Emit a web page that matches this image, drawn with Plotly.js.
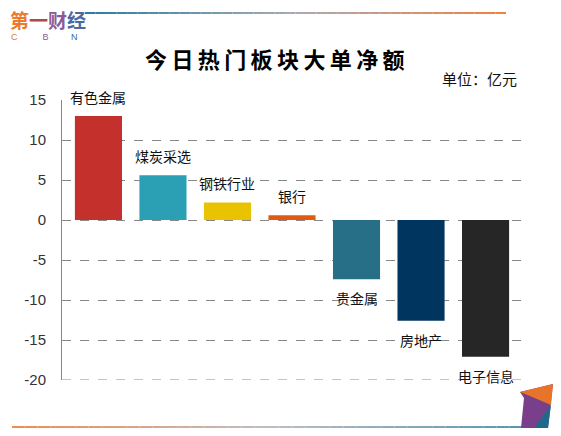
<!DOCTYPE html>
<html>
<head>
<meta charset="utf-8">
<script src="https://cdn.plot.ly/plotly-3.0.1.min.js"></script>
<style>html,body{margin:0;padding:0;background:#fff;}#chart{width:561px;height:436px;}</style>
</head>
<body>
<div id="chart"></div>
<script>
const categories = ["有色金属", "煤炭采选", "钢铁行业", "银行", "贵金属", "房地产", "电子信息"];
const values = [13.0, 5.6, 2.2, 0.6, -7.4, -12.6, -17.1];
const barColors = ["#c4302b", "#2ba0b4", "#e9c300", "#e05a10", "#266f87", "#003560", "#262626"];
const yTicks = [15, 10, 5, 0, -5, -10, -15, -20];

const cjk = '"Noto Sans CJK SC", "Noto Sans", sans-serif';

const trace = {
  type: "bar",
  x: categories.map((c, i) => i),
  y: values,
  marker: { color: barColors },
  width: 0.73,
  hoverinfo: "none"
};

const annotations = categories.map((c, i) => ({
  x: i, y: values[i], xref: "x", yref: "y",
  text: c, showarrow: false,
  yshift: values[i] >= 0 ? 19 : -19,
  font: { family: cjk, size: 14, color: "#111" }
}));

annotations.push({
  xref: "paper", yref: "paper", x: 0.462, y: 1, yanchor: "bottom", xanchor: "center",
  yshift: 24,
  text: "今\u2009日\u2009热\u2009门\u2009板\u2009块\u2009大\u2009单\u2009净\u2009额",
  showarrow: false, font: { family: cjk, size: 22, color: "#000", weight: "bold" }
});
annotations.push({
  xref: "paper", yref: "paper", x: 1, y: 1, yanchor: "bottom", xanchor: "right",
  yshift: 9, xshift: -3,
  text: "单位：亿元", showarrow: false, font: { family: cjk, size: 15, color: "#111" }
});
// logo
annotations.push({
  xref: "paper", yref: "paper", x: -0.117, y: 1, xanchor: "left", yanchor: "middle",
  yshift: 81,
  text: '<span style="color:#ec7a2c">第</span><span style="color:#b04a4a">一</span><span style="color:#8a5a9a">财</span><span style="color:#4a6aa0">经</span>',
  showarrow: false, font: { family: cjk, size: 19, weight: "bold" }
});
annotations.push({
  xref: "paper", yref: "paper", x: -0.115, y: 1, xanchor: "left", yanchor: "middle",
  yshift: 63,
  text: '<span style="color:#e8742a">C</span>          <span style="color:#8a5a9a">B</span>         <span style="color:#3a6a9a">N</span>',
  showarrow: false, font: { family: "Liberation Sans, Arial, sans-serif", size: 9 }
});

// gradient decoration lines
function lerp(a, b, t) { return Math.round(a + (b - a) * t); }
function col(stops, t) {
  const n = stops.length - 1;
  const k = Math.min(n - 1, Math.floor(t * n));
  const tt = t * n - k;
  const a = stops[k], b = stops[k + 1];
  return `rgb(${lerp(a[0], b[0], tt)},${lerp(a[1], b[1], tt)},${lerp(a[2], b[2], tt)})`;
}
const shapes = [];
function gradLine(x0, x1, y, stops) {
  const N = 40;
  for (let i = 0; i < N; i++) {
    shapes.push({
      type: "line", xref: "paper", yref: "paper",
      x0: x0 + (x1 - x0) * i / N, x1: x0 + (x1 - x0) * (i + 1) / N,
      y0: y, y1: y, line: { color: col(stops, (i + 0.5) / N), width: 2 }
    });
  }
}
// plot area: x 62..522 (460px), y 100..380 (280px)
const px = v => (v - 62) / 460;
const py = v => (380 - v) / 280;
gradLine(px(85), px(506), py(13), [[40, 125, 160], [170, 170, 180], [240, 128, 64]]);
gradLine(px(12), px(522), py(427), [[240, 140, 80], [190, 190, 195], [90, 150, 175]]);
// bottom gridline at -20
shapes.push({
  type: "line", xref: "paper", yref: "y", x0: 0, x1: 1, y0: -20, y1: -20,
  line: { color: "#888", width: 1, dash: "dash" }
});
shapes.push({
  type: "path", xref: "paper", yref: "paper",
  path: `M ${px(520)} ${py(392)} L ${px(553)} ${py(384)} L ${px(548)} ${py(428)} L ${px(521)} ${py(428)} L ${px(524)} ${py(398)} Z`,
  fillcolor: "#7a3f8a", line: { width: 0 }
});
shapes.push({
  type: "path", xref: "paper", yref: "paper",
  path: `M ${px(520)} ${py(392)} L ${px(553)} ${py(384)} L ${px(551)} ${py(405)} L ${px(530)} ${py(396)} Z`,
  fillcolor: "#e8742a", line: { width: 0 }
});
shapes.push({
  type: "path", xref: "paper", yref: "paper",
  path: `M ${px(551)} ${py(405)} L ${px(548)} ${py(428)} L ${px(534)} ${py(428)} Z`,
  fillcolor: "#1f6a8a", line: { width: 0 }
});

const layout = {
  width: 561, height: 436,
  margin: { l: 62, r: 39, t: 100, b: 56 },
  paper_bgcolor: "#fff", plot_bgcolor: "#fff",
  showlegend: false,
  xaxis: {
    range: [-0.565, 6.565], showticklabels: false, showgrid: false, zeroline: false,
    showline: false, ticks: "", fixedrange: true
  },
  yaxis: {
    range: [-20, 15], tickvals: yTicks, ticktext: yTicks.map(String),
    showgrid: true, gridcolor: "#888", griddash: "dash", gridwidth: 1,
    zeroline: false, showline: true, linecolor: "#888", linewidth: 1,
    ticks: "", ticklabelstandoff: 12,
    tickfont: { family: "Liberation Sans, Arial, sans-serif", size: 15, color: "#333" },
    fixedrange: true
  },
  annotations: annotations,
  shapes: shapes
};

Plotly.newPlot("chart", [trace], layout, { displayModeBar: false, staticPlot: true });
</script>
</body>
</html>
